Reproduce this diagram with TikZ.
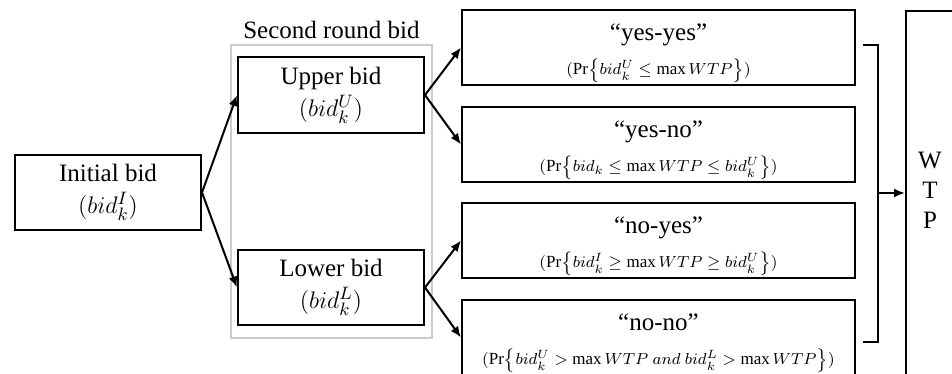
\documentclass[tikz,border=0pt]{standalone}
\usepackage{fontspec}
\setmainfont{Liberation Serif}
\usetikzlibrary{arrows.meta}
\begin{document}
\begin{tikzpicture}[x=0.5pt,y=-0.5pt,>={Latex[length=5.5pt,width=4.5pt]},
        font=\fontsize{12.5}{15}\selectfont,
        bidbox/.style={draw,line width=1pt,minimum width=93pt,minimum height=37.5pt,align=center,inner sep=1pt},
        outbox/.style={draw,line width=1pt,minimum width=196.5pt,minimum height=37.5pt,align=center,inner xsep=1pt,inner ysep=0pt},
        link/.style={->,line width=1pt}]
            \clip (0,0) rectangle (952,374);
            % Bids
            \node[draw=black!20,line width=1pt,minimum width=100.5pt,minimum height=146.5pt] (round) at (331.5,191.5) {};
            \node[above=-1pt] (roundlbl) at (round.north) {Second round bid};
            \node[bidbox] (init) at (108,192.5) {Initial bid\\[1pt]$(bid_k^I)$};
            \node[bidbox] (upper) at (331,95) {Upper bid\\[1pt]$(bid_k^U)$};
            \node[bidbox] (lower) at (331,287.5) {Lower bid\\[1pt]$(bid_k^L)$};
            % Outcomes
            \node[outbox] (yy) at (658.5,47.5) {\rule{0pt}{14pt}``yes-yes''\\[2pt]\fontsize{8.5}{10}\selectfont$(\Pr\bigl\{bid_k^U \le \max WTP\bigr\})$};
            \node[outbox] (yn) at (658.5,144.5) {\rule{0pt}{14pt}``yes-no''\\[2pt]\fontsize{8.5}{10}\selectfont$(\Pr\bigl\{bid_k \le \max WTP \le bid_k^U\bigr\})$};
            \node[outbox] (ny) at (658.5,240.5) {\rule{0pt}{14pt}``no-yes''\\[2pt]\fontsize{8.5}{10}\selectfont$(\Pr\bigl\{bid_k^I \ge \max WTP \ge bid_k^U\bigr\})$};
            \node[outbox] (nn) at (658.5,337.5) {\rule{0pt}{14pt}``no-no''\\[2pt]\fontsize{8.5}{10}\selectfont$(\Pr\bigl\{bid_k^U > \max WTP\ and\ bid_k^L > \max WTP\bigr\})$};
            % WTP
            \node[draw,line width=1pt,minimum width=30pt,minimum height=190pt,anchor=north west] (wtp) at (905,10) {};
            \node[align=center] (wtplbl) at (930,190) {W\\T\\P};
            % Arrows
            \foreach \a/\b in {init/upper, init/lower, upper/yy, upper/yn, lower/ny, lower/nn}
                \draw[link] (\a.east) -- (\b.west);
            \coordinate (brtop) at (878,45);
            \coordinate (brbot) at (878,342);
            \coordinate (brmid) at (878,193);
            \draw[line width=1pt] (863,45) -- (brtop) -- (brbot) -- (863,342);
            \draw[link] (brmid) -- (brmid -| wtp.west);
        \end{tikzpicture}
\end{document}
